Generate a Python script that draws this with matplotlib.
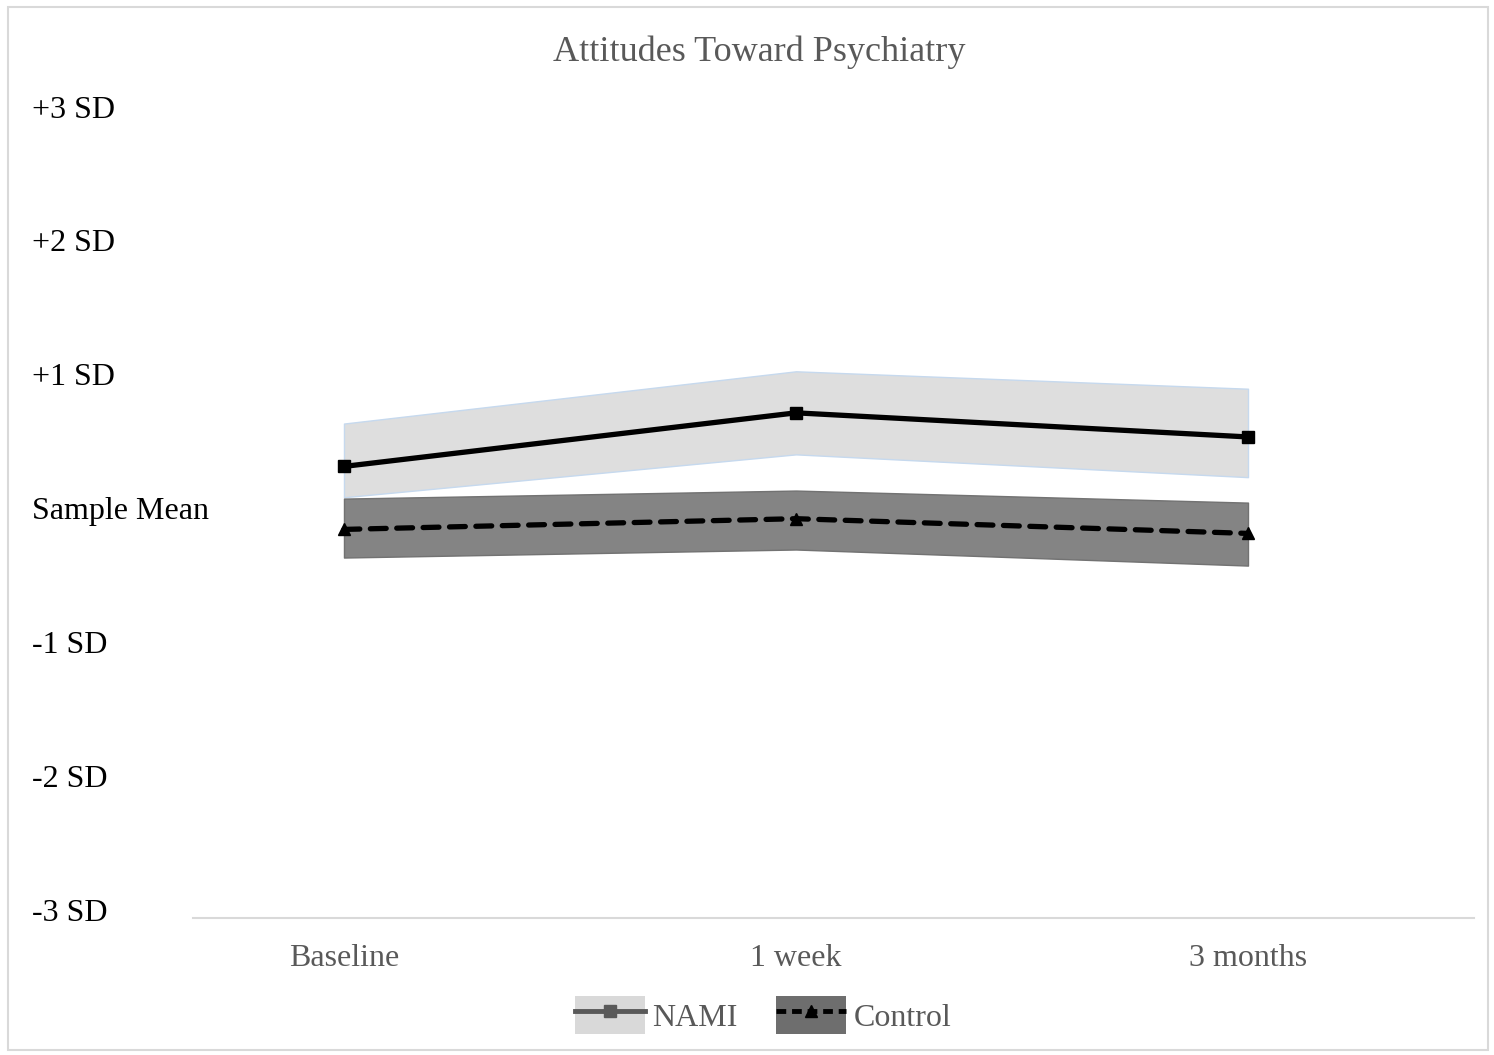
import matplotlib
matplotlib.use("Agg")
import matplotlib.pyplot as plt
from matplotlib.patches import Patch, Rectangle
from matplotlib.lines import Line2D
import matplotlib.transforms as mtrans

categories = ["Baseline", "1 week", "3 months"]
nami_mean = [0.34, 0.74, 0.56]
nami_upper = [0.66, 1.05, 0.92]
nami_lower = [0.11, 0.43, 0.26]
control_mean = [-0.13, -0.05, -0.16]
control_upper = [0.10, 0.16, 0.07]
control_lower = [-0.34, -0.28, -0.40]
ytick_vals = [3, 2, 1, 0, -1, -2, -3]
ytick_labels = ["+3 SD", "+2 SD", "+1 SD", "Sample Mean", "-1 SD", "-2 SD", "-3 SD"]

plt.rcParams['font.family'] = ['Liberation Serif', 'DejaVu Serif']

W, H = 1494, 1055
fig = plt.figure(figsize=(W / 100, H / 100), dpi=100)
ax = fig.add_axes([193 / W, 1 - 918 / H, (1474 - 193) / W, (918 - 110) / H])

x = list(range(len(categories)))
ax.fill_between(x, nami_lower, nami_upper, color="#dedede", edgecolor="#c6d9ee", linewidth=1, zorder=1)
ax.fill_between(x, control_lower, control_upper, color="#808080", edgecolor="#707070", linewidth=1, alpha=0.97, zorder=2)
ax.plot(x, nami_mean, color="black", lw=3.8, marker="s", ms=9, zorder=4)
ax.plot(x, control_mean, color="black", lw=3.8, ls=(0, (3.0, 2.0)), dash_capstyle="round",
        marker="^", ms=8, zorder=4)

ax.set_xlim(-0.334, 2.5)
ax.set_ylim(-3.03, 3.0)
ax.set_xticks(x)
ax.set_xticklabels(categories, fontsize=23, color="#595959")
ax.tick_params(axis="x", length=0, pad=19)
ax.set_yticks([])
for s in ["top", "right", "left"]:
    ax.spines[s].set_visible(False)
ax.spines["bottom"].set_color("#d9d9d9")
ax.spines["bottom"].set_linewidth(1.5)

trans = mtrans.blended_transform_factory(fig.transFigure, ax.transData)
for v, lab in zip(ytick_vals, ytick_labels):
    ax.text(32 / W, v, lab, transform=trans, fontsize=23, color="black", ha="left", va="center")

fig.text(759 / W, 1 - 52 / H, "Attitudes Toward Psychiatry", fontsize=26, color="#595959", ha="center", va="center")

h1 = (Patch(facecolor="#d9d9d9", edgecolor="none"),
      Line2D([], [], color="#595959", lw=3.5, marker="s", ms=9, markerfacecolor="#595959"))
h2 = (Patch(facecolor="#6e6e6e", edgecolor="none"),
      Line2D([], [], color="black", lw=3.5, ls=(0, (2, 1.2)), marker="^", ms=8))
leg = fig.legend([h1, h2], ["NAMI", "Control"], loc="center", bbox_to_anchor=(763 / W, 1 - 1015 / H),
                 ncol=2, frameon=False, fontsize=23, handlelength=2.2, handleheight=1.5,
                 handletextpad=0.22, columnspacing=1.2, borderpad=0.2)
for t in leg.get_texts():
    t.set_color("#595959")

fig.patches.append(Rectangle((8 / W, 1 - 1050 / H), (1488 - 8) / W, (1050 - 7) / H,
                             transform=fig.transFigure, fill=False, edgecolor="#d9d9d9", lw=1.5))

fig.savefig("out.png", dpi=100)
